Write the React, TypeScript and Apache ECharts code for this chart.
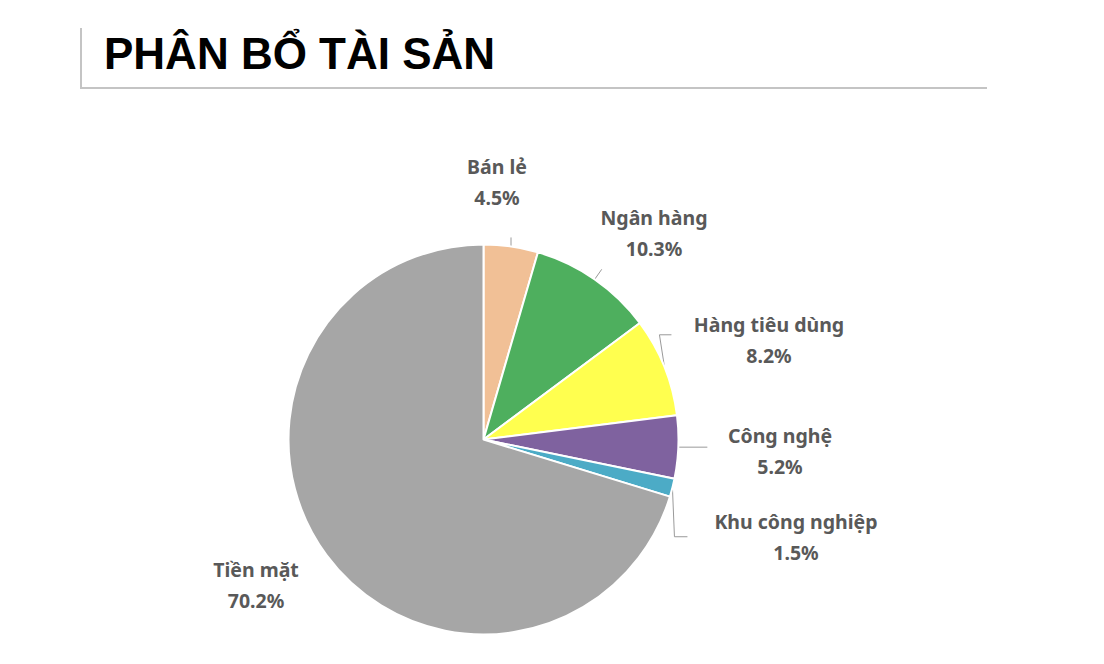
import React, { useEffect, useRef } from "react";
import * as echarts from "echarts";

const TITLE = "PHÂN BỔ TÀI SẢN";
const categories = ["Bán lẻ", "Ngân hàng", "Hàng tiêu dùng", "Công nghệ", "Khu công nghiệp", "Tiền mặt"];
const values = [4.5, 10.3, 8.2, 5.2, 1.5, 70.2];
const colors = ["#F1C096", "#4EAF5E", "#FFFF4F", "#7F629F", "#4CABC6", "#A6A6A6"];

// layout (label centres and label-line bends, relative offsets)
const PIE_CENTER = [483.5, 439.5];
const PIE_RADIUS = 195;
const LABEL_CENTERS = [
  [497, 182],
  [654, 233],
  [769, 340],
  [780, 451],
  [796, 537],
  [256, 585],
];
// extra points of each label line, as offsets from the point on the pie edge
const LINE_OFFSETS: number[][][] = [
  [[0, -9]],
  [[7, -10]],
  [[-5, -32], [7, -32]],
  [[29, 0]],
  [[2, 49], [15, 49]],
  [],
];

export default function App() {
  const ref = useRef<HTMLDivElement>(null);
  useEffect(() => {
    if (!ref.current) return;
    const chart = echarts.init(ref.current, undefined, { renderer: "svg" });
    chart.setOption({
      animation: false,
      backgroundColor: "#ffffff",
      title: {
        text: TITLE,
        left: 99,
        top: 26,
        textStyle: {
          fontFamily: "Liberation Sans",
          fontWeight: "bold",
          fontSize: 44,
          color: "#000000",
        },
      },
      graphic: [
        {
          type: "line",
          shape: { x1: 81, y1: 28, x2: 81, y2: 88 },
          style: { stroke: "#C4C4C4", lineWidth: 2 },
        },
        {
          type: "line",
          shape: { x1: 80, y1: 88, x2: 987, y2: 88 },
          style: { stroke: "#C4C4C4", lineWidth: 2 },
        },
      ],
      series: [
        {
          type: "pie",
          center: PIE_CENTER,
          radius: PIE_RADIUS,
          startAngle: 90,
          clockwise: true,
          avoidLabelOverlap: false,
          itemStyle: { borderColor: "#ffffff", borderWidth: 2 },
          emphasis: { disabled: true },
          label: {
            show: true,
            position: "outside",
            formatter: (p: any) => `${p.name}\n${Number(p.value).toFixed(1)}%`,
            fontFamily: "Noto Sans",
            fontWeight: "bold",
            fontSize: 19.5,
            lineHeight: 31,
            color: "#595959",
            align: "center",
          },
          labelLine: {
            show: true,
            length: 10,
            length2: 10,
            lineStyle: { color: "#9A9A9A", width: 1 },
          },
          labelLayout: (params: any) => {
            const i = params.dataIndex;
            const c = LABEL_CENTERS[i];
            const pts = params.labelLinePoints;
            const res: any = { x: c[0], y: c[1], align: "center", verticalAlign: "middle" };
            if (pts && pts.length) {
              const p0 = pts[0];
              const list = [[p0[0], p0[1]]];
              LINE_OFFSETS[i].forEach((o) => list.push([p0[0] + o[0], p0[1] + o[1]]));
              if (list.length === 1) list.push([p0[0], p0[1]]);
              res.labelLinePoints = list;
            }
            return res;
          },
          data: categories.map((name, i) => ({
            name,
            value: values[i],
            itemStyle: { color: colors[i] },
            labelLine: { show: LINE_OFFSETS[i].length > 0 },
          })),
        },
      ],
    });
    return () => chart.dispose();
  }, []);
  return (
    <div
      ref={ref}
      style={{ position: "absolute", left: 0, top: 0, width: 1104, height: 664, background: "#fff" }}
    />
  );
}
